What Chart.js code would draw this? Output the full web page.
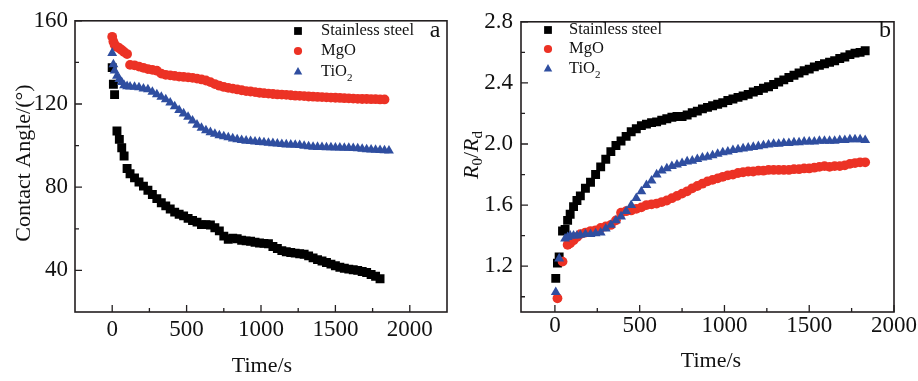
<!DOCTYPE html>
<html>
<head>
<meta charset="utf-8">
<script src="https://cdn.jsdelivr.net/npm/chart.js@4.4.1/dist/chart.umd.min.js"></script>
<style>
  html, body { margin: 0; padding: 0; background: #fff; }
  #wrap { position: relative; width: 918px; height: 381px; }
  #chartA { position: absolute; left: 0; top: 0; }
  #chartB { position: absolute; left: 460px; top: 0; }
</style>
</head>
<body>
<div id="wrap">
  <canvas id="chartA" width="460" height="381"></canvas>
  <canvas id="chartB" width="458" height="381"></canvas>
</div>
<script>
// ---- panel a : contact angle vs time ----
var timeA = [0, 8, 16, 32, 48, 64, 80, 100, 120, 150, 180, 210, 240, 270, 300, 330, 360, 390, 420,
    450, 480, 510, 540, 570, 600, 630, 660, 690, 720, 750, 780, 810, 840, 870, 900, 930, 960, 990, 1020,
    1050, 1080, 1110, 1140, 1170, 1200, 1230, 1260, 1290, 1320, 1350, 1380, 1410, 1440, 1470, 1500, 1530,
    1560, 1590, 1620, 1650, 1680, 1710, 1740, 1770, 1800, 1830, 1860]
var steelAngle = [137.5, 129.5, 124.5, 107, 103, 99, 95, 89, 86.5,
    84.5, 82.5, 80.5, 78.5, 76.5, 74.5, 72.5, 71, 69.5, 68,
    67, 66.2, 65, 64, 63.2, 62, 62, 61.8, 60.5, 59,
    56.5, 55, 55.5, 55.2, 54.5, 54.2, 54, 53.5, 53.2, 53,
    52.8, 51.5, 50.5, 49.5, 49, 48.6, 48.3, 48, 47.8, 47,
    46, 45.2, 44.5, 43.8, 43, 42.2, 41.5, 41, 40.6, 40.3,
    40, 39.5, 39, 38, 37.2, 36]
var mgoAngle = [152.3, 150, 148.5, 147.5, 146.8, 146, 145, 144, 138.8,
    138.6, 138, 137.4, 136.8, 136.4, 136, 134.6, 134, 133.8, 133.5,
    133.2, 133, 132.8, 132.6, 132.2, 131.8, 131.3, 130.5, 129.6, 128.8,
    128.2, 127.8, 127.4, 127, 126.6, 126.2, 126, 125.7, 125.4, 125.2,
    125, 124.8, 124.6, 124.5, 124.4, 124.2, 124, 123.9, 123.8, 123.6,
    123.5, 123.4, 123.3, 123.2, 123.1, 123, 122.9, 122.8, 122.7, 122.6,
    122.5, 122.4, 122.4, 122.3, 122.3, 122.2, 122.2]
var tio2Angle = [144.5, 139, 136, 133.5, 132, 130.5, 129, 128.5, 128.3,
    128.2, 128, 127.4, 127, 125.8, 124.6, 123.4, 122.2, 120.6, 118.8,
    117, 115.4, 113.8, 112, 110, 108.5, 107.3, 106.4, 105.6, 104.9,
    104.4, 103.9, 103.4, 103, 102.6, 102.3, 102.1, 101.9, 101.7, 101.5,
    101.3, 101.1, 100.9, 100.7, 100.5, 100.4, 100.3, 100.2, 99.8, 99.6,
    99.4, 99.3, 99.2, 99.1, 99.1, 99, 99, 98.9, 98.9, 98.8,
    98.6, 98.4, 98.2, 98, 97.9, 97.8, 97.7, 97.6]

// ---- panel b : R0/Rd vs time ----
var timeB = [5, 15, 25, 45, 60, 75, 90, 110, 130, 150, 180, 210, 240, 270, 300, 330, 360, 390, 420,
    450, 480, 510, 540, 570, 600, 630, 660, 690, 720, 750, 780, 810, 840, 870, 900, 930, 960, 990, 1020,
    1050, 1080, 1110, 1140, 1170, 1200, 1230, 1260, 1290, 1320, 1350, 1380, 1410, 1440, 1470, 1500, 1530,
    1560, 1590, 1620, 1650, 1680, 1710, 1740, 1770, 1800, 1830]
var steelRatio = [1.12, 1.22, 1.26, 1.43, 1.44, 1.50, 1.54, 1.59, 1.63, 1.66,
    1.71, 1.75, 1.80, 1.85, 1.90, 1.95, 1.99, 2.02, 2.05, 2.08,
    2.10, 2.12, 2.13, 2.14, 2.145, 2.155, 2.165, 2.175, 2.18, 2.18,
    2.19, 2.205, 2.215, 2.23, 2.24, 2.25, 2.26, 2.27, 2.285, 2.295,
    2.305, 2.315, 2.325, 2.34, 2.35, 2.365, 2.375, 2.39, 2.405, 2.42,
    2.435, 2.45, 2.465, 2.48, 2.49, 2.505, 2.515, 2.525, 2.535, 2.545,
    2.56, 2.57, 2.585, 2.595, 2.60, 2.61]
var mgoRatio = [null, 0.99, null, 1.23, null, 1.34, 1.35, 1.37, 1.39, 1.41,
    1.42, 1.43, 1.435, 1.45, 1.46, 1.47, 1.50, 1.55, 1.56, 1.565,
    1.575, 1.585, 1.60, 1.605, 1.61, 1.62, 1.63, 1.645, 1.66, 1.675,
    1.69, 1.71, 1.725, 1.74, 1.755, 1.765, 1.775, 1.785, 1.795, 1.80,
    1.81, 1.815, 1.82, 1.82, 1.825, 1.825, 1.83, 1.83, 1.83, 1.83,
    1.83, 1.835, 1.835, 1.84, 1.84, 1.845, 1.85, 1.855, 1.85, 1.855,
    1.855, 1.86, 1.87, 1.875, 1.88, 1.88]
var tio2Ratio = [1.03, null, 1.25, null, 1.38, 1.39, 1.40, 1.40, 1.40, 1.405,
    1.41, 1.41, 1.415, 1.42, 1.445, 1.47, 1.50, 1.525, 1.56, 1.60,
    1.645, 1.69, 1.73, 1.76, 1.80, 1.825, 1.84, 1.855, 1.865, 1.875,
    1.885, 1.89, 1.90, 1.91, 1.915, 1.925, 1.935, 1.945, 1.95, 1.96,
    1.965, 1.97, 1.975, 1.98, 1.985, 1.99, 1.995, 2.00, 2.00, 2.005,
    2.005, 2.01, 2.01, 2.015, 2.015, 2.015, 2.02, 2.02, 2.02, 2.02,
    2.025, 2.025, 2.03, 2.03, 2.03, 2.025]

// ---- axes ----
var xTicksA = [0, 500, 1000, 1500, 2000]
var xMinorA = [250, 750, 1250, 1750]
var yTicksA = [40, 80, 120, 160]
var yMinorA = [60, 100, 140]
var xTicksB = [0, 500, 1000, 1500, 2000]
var xMinorB = [250, 750, 1250, 1750]
var yTicksB = [1.2, 1.6, 2.0, 2.4, 2.8]
var yMinorB = [1.0, 1.4, 1.8, 2.2, 2.6]

var seriesNames = ['Stainless steel', 'MgO', 'TiO']
var seriesColors = ['#000000', '#ec3225', '#2f4ea0']
var seriesStyles = ['rect', 'circle', 'triangle']
var seriesRadius = [6.3, 4.9, 5.7]

var SERIF = '"Liberation Serif", "Times New Roman", serif'
Chart.defaults.font.family = SERIF
Chart.defaults.color = '#111'

function toPoints(times, values) {
    var out = []
    for (var i = 0; i < values.length; i++) {
        if (values[i] !== null) out.push({ x: times[i], y: values[i] })
    }
    return out
}

function makeDatasets(lists, times) {
    return lists.map(function (vals, i) {
        return {
            label: seriesNames[i],
            data: toPoints(times, vals),
            pointStyle: seriesStyles[i],
            pointRadius: seriesRadius[i],
            pointBackgroundColor: seriesColors[i],
            pointBorderWidth: 0,
            showLine: false,
            order: 3 - i
        }
    })
}

// draws the frame, inward ticks, titles and the in-plot legend
function decorPlugin(cfg) {
    return {
        id: 'decor',
        afterDraw: function (chart) {
            var ctx = chart.ctx
            var a = chart.chartArea
            var xs = chart.scales.x
            var ys = chart.scales.y
            ctx.save()
            ctx.strokeStyle = '#231f20'
            ctx.lineWidth = 1.6
            ctx.strokeRect(a.left, a.top, a.right - a.left, a.bottom - a.top)

            ctx.lineWidth = 1.3
            ctx.beginPath()
            function xTick(v, len) {
                var p = xs.getPixelForValue(v)
                ctx.moveTo(p, a.bottom); ctx.lineTo(p, a.bottom - len)
            }
            function yTick(v, len) {
                var p = ys.getPixelForValue(v)
                ctx.moveTo(a.left, p); ctx.lineTo(a.left + len, p)
            }
            cfg.xMajor.forEach(function (v) { xTick(v, 7) })
            cfg.xMinor.forEach(function (v) { xTick(v, 4) })
            cfg.yMajor.forEach(function (v) { yTick(v, 7) })
            cfg.yMinor.forEach(function (v) { yTick(v, 4) })
            ctx.stroke()

            // x title
            ctx.fillStyle = '#111'
            ctx.font = '22px ' + SERIF
            ctx.textAlign = 'center'
            ctx.textBaseline = 'alphabetic'
            ctx.fillText('Time/s', cfg.xTitle[0], cfg.xTitle[1])

            // y title
            ctx.save()
            ctx.translate(cfg.yTitle[0], cfg.yTitle[1])
            ctx.rotate(-Math.PI / 2)
            var parts = cfg.yParts
            var total = 0
            parts.forEach(function (p) {
                ctx.font = (p.italic ? 'italic ' : '') + p.size + 'px ' + SERIF
                total += ctx.measureText(p.t).width
            })
            var cx = -total / 2
            ctx.textAlign = 'left'
            parts.forEach(function (p) {
                ctx.font = (p.italic ? 'italic ' : '') + p.size + 'px ' + SERIF
                ctx.fillText(p.t, cx, p.sub ? 4 : 0)
                cx += ctx.measureText(p.t).width
            })
            ctx.restore()

            // panel letter
            ctx.font = '24px ' + SERIF
            ctx.textAlign = 'center'
            ctx.textBaseline = 'middle'
            ctx.fillText(cfg.letter[0], cfg.letter[1], cfg.letter[2])

            // legend
            var lg = cfg.legend
            for (var i = 0; i < seriesNames.length; i++) {
                var y = lg.y[i]
                ctx.fillStyle = seriesColors[i]
                Chart.helpers.drawPoint(ctx, {
                    pointStyle: seriesStyles[i], radius: seriesRadius[i] - 0.8,
                    rotation: 0, borderWidth: 0
                }, lg.markX, y)
                ctx.fillStyle = '#111'
                ctx.font = '16.5px ' + SERIF
                ctx.textAlign = 'left'
                ctx.textBaseline = 'middle'
                ctx.fillText(seriesNames[i], lg.textX, y)
                if (i === 2) {
                    var w = ctx.measureText(seriesNames[i]).width
                    ctx.font = '11px ' + SERIF
                    ctx.fillText('2', lg.textX + w, y + 6)
                }
            }
            ctx.restore()
        }
    }
}

function makeChart(canvasId, datasets, o) {
    return new Chart(document.getElementById(canvasId).getContext('2d'), {
        type: 'scatter',
        data: { datasets: datasets },
        options: {
            responsive: false,
            animation: false,
            events: [],
            layout: { autoPadding: false, padding: o.padding },
            plugins: { legend: { display: false }, tooltip: { enabled: false } },
            scales: {
                x: {
                    type: 'linear', min: o.xMin, max: o.xMax,
                    afterBuildTicks: function (s) { s.ticks = o.xTicks.map(function (v) { return { value: v } }) },
                    afterFit: function (s) { s.height = o.xAxisHeight },
                    grid: { display: false, drawTicks: false },
                    border: { display: false },
                    ticks: {
                        font: { size: 23 }, padding: o.xPad, maxRotation: 0, autoSkip: false,
                        color: '#111',
                        callback: function (v) { return String(v) }
                    }
                },
                y: {
                    type: 'linear', min: o.yMin, max: o.yMax,
                    afterBuildTicks: function (s) { s.ticks = o.yTicks.map(function (v) { return { value: v } }) },
                    afterFit: function (s) { s.width = o.yAxisWidth },
                    grid: { display: false, drawTicks: false },
                    border: { display: false },
                    ticks: {
                        font: { size: 23 }, padding: o.yPad, autoSkip: false,
                        color: '#111',
                        callback: function (v) { return o.yFmt(v) }
                    }
                }
            }
        },
        plugins: [decorPlugin(o.decor)]
    })
}

makeChart('chartA', makeDatasets([steelAngle, mgoAngle, tio2Angle], timeA), {
    padding: { left: 0, top: 15, right: 13, bottom: 0 },
    xMin: -250, xMax: 2250, yMin: 20, yMax: 160,
    xTicks: xTicksA, yTicks: yTicksA,
    xAxisHeight: 69, yAxisWidth: 75, xPad: 4, yPad: 7,
    yFmt: function (v) { return String(v) },
    decor: {
        xMajor: xTicksA, xMinor: xMinorA, yMajor: yTicksA, yMinor: yMinorA,
        xTitle: [262, 372], yTitle: [30, 163],
        yParts: [{ t: 'Contact Angle/(°)', size: 22 }],
        letter: ['a', 435, 31],
        legend: { markX: 298, textX: 321, y: [31, 51, 72] }
    }
})

makeChart('chartB', makeDatasets([steelRatio, mgoRatio, tio2Ratio], timeB), {
    padding: { left: 0, top: 15, right: 24, bottom: 0 },
    xMin: -200, xMax: 2000, yMin: 0.9, yMax: 2.8,
    xTicks: xTicksB, yTicks: yTicksB,
    xAxisHeight: 69, yAxisWidth: 61, xPad: 0, yPad: 8,
    yFmt: function (v) { return v.toFixed(1) },
    decor: {
        xMajor: xTicksB, xMinor: xMinorB, yMajor: yTicksB, yMinor: yMinorB,
        xTitle: [251, 367], yTitle: [18, 155],
        yParts: [
            { t: 'R', size: 22, italic: true }, { t: '0', size: 15, sub: true },
            { t: '/', size: 22 },
            { t: 'R', size: 22, italic: true }, { t: 'd', size: 15, sub: true }
        ],
        letter: ['b', 425, 31],
        legend: { markX: 88, textX: 109, y: [30, 49, 69] }
    }
})
</script>
</body>
</html>
